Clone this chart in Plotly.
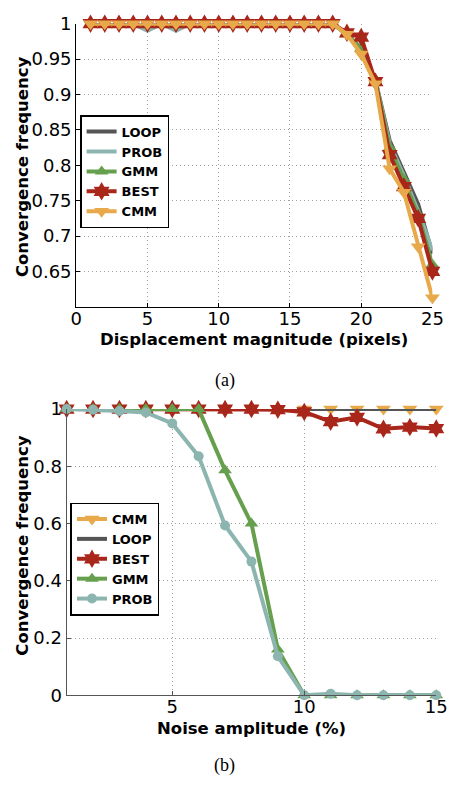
import plotly.graph_objects as go

# ---------------- data: (a) displacement ----------------
disp_x = list(range(1, 26))
a_loop = [1]*18 + [0.985, 0.965, 0.92, 0.835, 0.79, 0.745, 0.675]
a_prob = [1, 1, 1, 1, 0.99, 1, 0.99] + [1]*11 + [0.985, 0.965, 0.92, 0.83, 0.785, 0.735, 0.68]
a_gmm = [1]*18 + [0.985, 0.965, 0.92, 0.825, 0.78, 0.73, 0.66]
a_best = [1]*18 + [0.987, 0.981, 0.918, 0.815, 0.77, 0.725, 0.65]
a_cmm = [1]*18 + [0.985, 0.957, 0.915, 0.795, 0.762, 0.685, 0.613]

# ---------------- data: (b) noise ----------------
noise_x = list(range(1, 16))
b_cmm = [1]*15
b_loop = [1]*15
b_best = [1]*8 + [0.998, 0.99, 0.956, 0.971, 0.931, 0.937, 0.932]
b_gmm = [1]*6 + [0.786, 0.6, 0.16, 0, 0, 0, 0, 0, 0]
b_prob = [1, 0.998, 0.993, 0.988, 0.95, 0.835, 0.593, 0.467, 0.136, 0, 0.005, 0, 0, 0, 0]

a_xticks = [0, 5, 10, 15, 20, 25]
a_yticks = [0.65, 0.7, 0.75, 0.8, 0.85, 0.9, 0.95, 1]
a_yticktext = ["0.65", "0.7", "0.75", "0.8", "0.85", "0.9", "0.95", "1"]
b_xticks = [5, 10, 15]
b_yticks = [0, 0.2, 0.4, 0.6, 0.8, 1]
b_yticktext = ["0", "0.2", "0.4", "0.6", "0.8", "1"]

C_LOOP = "#555555"
C_PROB = "#8db5b0"
C_GMM = "#66a04e"
C_BEST = "#a8261a"
C_CMM = "#e8a94b"

LW = 4
fig = go.Figure()

def add(x, y, name, color, symbol, size, xa, ya, legend, mode="lines+markers"):
    fig.add_trace(go.Scatter(
        x=x, y=y, name=name, mode=mode, xaxis=xa, yaxis=ya, legend=legend,
        line=dict(color=color, width=LW),
        marker=dict(symbol=symbol, size=size, color=color, line=dict(width=0)),
        cliponaxis=False))

# (a)
add(disp_x, a_loop, "LOOP", C_LOOP, "circle", 1, "x", "y", "legend", mode="lines")
add(disp_x, a_prob, "PROB", C_PROB, "circle", 1, "x", "y", "legend", mode="lines")
add(disp_x, a_gmm, "GMM", C_GMM, "triangle-up", 12, "x", "y", "legend")
add(disp_x, a_best, "BEST", C_BEST, "hexagram", 14, "x", "y", "legend")
add(disp_x, a_cmm, "CMM", C_CMM, "triangle-down", 13, "x", "y", "legend")

# (b)
add(noise_x, b_cmm, "CMM", C_CMM, "triangle-down", 13, "x2", "y2", "legend2")
add(noise_x, b_loop, "LOOP", C_LOOP, "circle", 1, "x2", "y2", "legend2", mode="lines")
add(noise_x, b_best, "BEST", C_BEST, "hexagram", 14, "x2", "y2", "legend2")
add(noise_x, b_gmm, "GMM", C_GMM, "triangle-up", 12, "x2", "y2", "legend2")
add(noise_x, b_prob, "PROB", C_PROB, "circle", 10, "x2", "y2", "legend2")

W, H = 454, 787
SANS = "DejaVu Sans, Liberation Sans, Arial, sans-serif"
TICKFONT = dict(family=SANS, size=18, color="black")
GRID = dict(showgrid=True, gridcolor="#a0a0a0", griddash="1px,3px", gridwidth=1)

def px_x(p):
    return p / W

def px_y(p):
    return 1 - p / H

def axis(color):
    return dict(showline=True, linecolor=color, linewidth=1.2, ticks="inside",
                ticklen=4, tickcolor=color, tickfont=TICKFONT, zeroline=False,
                ticklabeloverflow="allow", **GRID)

LEGFONT = dict(family=SANS, size=13, weight="bold", color="black")

fig.update_layout(
    width=W, height=H, margin=dict(l=0, r=0, t=0, b=0),
    paper_bgcolor="white", plot_bgcolor="white",
    xaxis=dict(domain=[px_x(73), px_x(443)], range=[0, 25], tickvals=a_xticks,
               anchor="y", ticklabelstandoff=-5, **axis("black")),
    yaxis=dict(domain=[px_y(304), px_y(13)], range=[0.6, 1], tickvals=a_yticks,
               ticktext=a_yticktext, anchor="x", **axis("black")),
    xaxis2=dict(domain=[px_x(63), px_x(447)], range=[1, 15], tickvals=b_xticks,
                anchor="y2", ticklabelstandoff=-5, **axis("#555555")),
    yaxis2=dict(domain=[px_y(703), px_y(409)], range=[0, 1], tickvals=b_yticks,
                ticktext=b_yticktext, anchor="x2", **axis("#555555")),
    legend=dict(x=px_x(77), y=px_y(107), xanchor="left", yanchor="top",
                bordercolor="black", borderwidth=1.5, bgcolor="white",
                font=LEGFONT, itemwidth=30, tracegroupgap=0),
    legend2=dict(x=px_x(67), y=px_y(505), xanchor="left", yanchor="top",
                 bordercolor="black", borderwidth=1.5, bgcolor="white",
                 font=LEGFONT, itemwidth=30, tracegroupgap=0),
    showlegend=True,
)

TITLEFONT = dict(family=SANS, size=16.5, color="black", weight="bold")
CAPFONT = dict(family="Liberation Serif, Times New Roman, serif", size=18, color="black")
ann = [
    dict(text="Displacement magnitude (pixels)", x=px_x(258), y=px_y(337), font=TITLEFONT),
    dict(text="Convergence frequency", x=px_x(17), y=px_y(160), font=TITLEFONT, textangle=-90),
    dict(text="(a)", x=px_x(227), y=px_y(380), font=CAPFONT),
    dict(text="Noise amplitude (%)", x=px_x(255), y=px_y(737), font=TITLEFONT),
    dict(text="Convergence frequency", x=px_x(17), y=px_y(549), font=TITLEFONT, textangle=-90),
    dict(text="(b)", x=px_x(227), y=px_y(775), font=CAPFONT),
]
for a in ann:
    fig.add_annotation(xref="paper", yref="paper", showarrow=False,
                       xanchor="center", yanchor="middle", **a)

fig.write_html("out.html")
